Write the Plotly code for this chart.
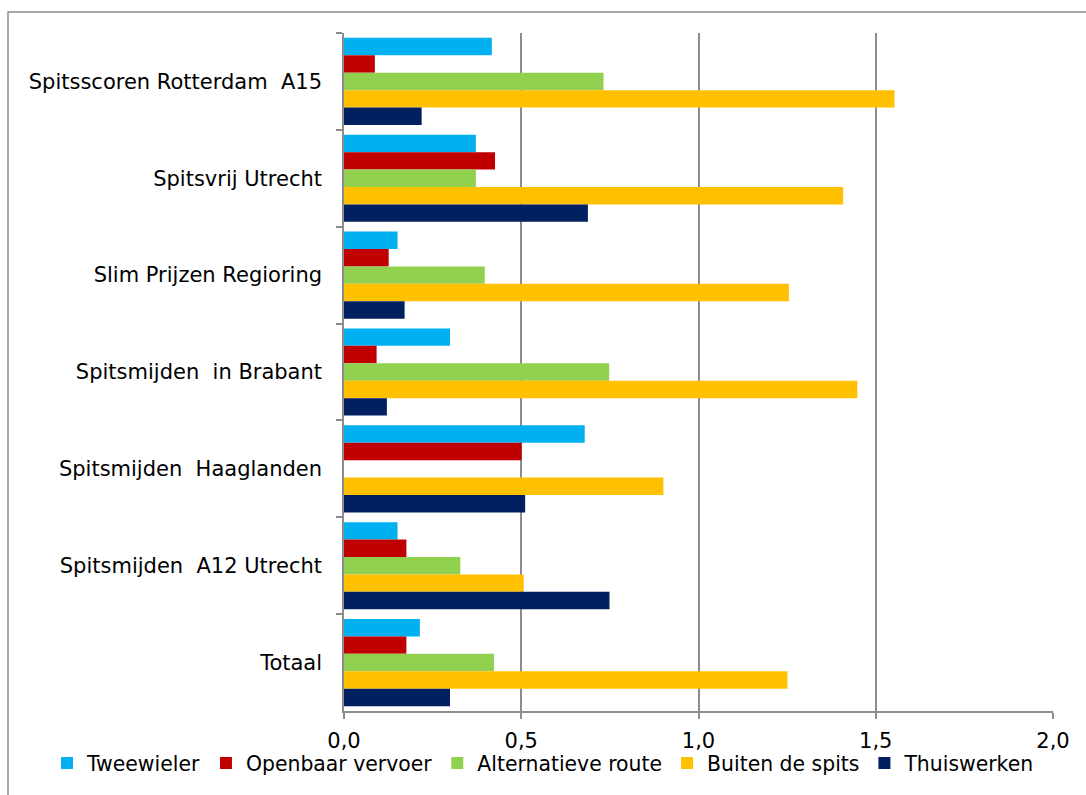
import plotly.graph_objects as go

categories = [
    "Spitsscoren Rotterdam  A15",
    "Spitsvrij Utrecht",
    "Slim Prijzen Regioring",
    "Spitsmijden  in Brabant",
    "Spitsmijden  Haaglanden",
    "Spitsmijden  A12 Utrecht",
    "Totaal",
]

tweewieler = [0.417, 0.372, 0.151, 0.299, 0.679, 0.151, 0.214]
openbaar_vervoer = [0.087, 0.426, 0.126, 0.092, 0.501, 0.176, 0.176]
alternatieve_route = [0.732, 0.372, 0.397, 0.748, 0.0, 0.328, 0.423]
buiten_de_spits = [1.553, 1.408, 1.255, 1.448, 0.901, 0.507, 1.251]
thuiswerken = [0.219, 0.688, 0.171, 0.121, 0.511, 0.749, 0.299]

series_names = ["Tweewieler", "Openbaar vervoer", "Alternatieve route", "Buiten de spits", "Thuiswerken"]
series_values = [tweewieler, openbaar_vervoer, alternatieve_route, buiten_de_spits, thuiswerken]
colors = ["#00B0F0", "#C00000", "#92D050", "#FFC000", "#002060"]

FONT = "DejaVu Sans"
fig = go.Figure()
for name, vals, col in zip(series_names, series_values, colors):
    fig.add_trace(go.Bar(
        y=categories, x=vals, name=name, orientation="h",
        marker=dict(color=col, line=dict(width=0)),
    ))

fig.update_layout(
    width=1086, height=795,
    margin=dict(l=344, r=33, t=33, b=84, autoexpand=False),
    paper_bgcolor="white", plot_bgcolor="white",
    barmode="group", bargap=0.1, bargroupgap=0,
    separators=",.",
    font=dict(family=FONT, size=21, color="black"),
    showlegend=True,
    legend=dict(
        orientation="h",
        x=(47 - 344) / 709, xanchor="left", y=-0.077, yanchor="middle",
        font=dict(family=FONT, size=20.4, color="black"),
        itemwidth=30, traceorder="normal", tracegroupgap=0,
        bgcolor="rgba(0,0,0,0)",
    ),
    xaxis=dict(
        range=[0, 2], dtick=0.5, tick0=0, tickformat=".1f",
        showgrid=True, gridcolor="#8c8c8c", gridwidth=1.5,
        showline=True, linecolor="#8c8c8c", linewidth=1.5,
        ticks="outside", ticklen=6, tickcolor="#8c8c8c", tickwidth=1.5,
        zeroline=False, ticklabelstandoff=4,
    ),
    yaxis=dict(
        type="category", autorange="reversed",
        showgrid=False, showline=True, linecolor="#8c8c8c", linewidth=1.5,
        ticks="outside", ticklen=6, tickcolor="#8c8c8c", tickwidth=1.5,
        tickson="boundaries", ticklabelstandoff=16,
    ),
    shapes=[dict(
        type="rect", xref="paper", yref="paper",
        x0=(8 - 344) / 709, x1=(1092 - 344) / 709,
        y0=(711 - 800) / 678, y1=(711 - 12) / 678,
        line=dict(color="#8c8c8c", width=1.5), fillcolor="rgba(0,0,0,0)", layer="below",
    )],
)

fig.write_html("out.html")
